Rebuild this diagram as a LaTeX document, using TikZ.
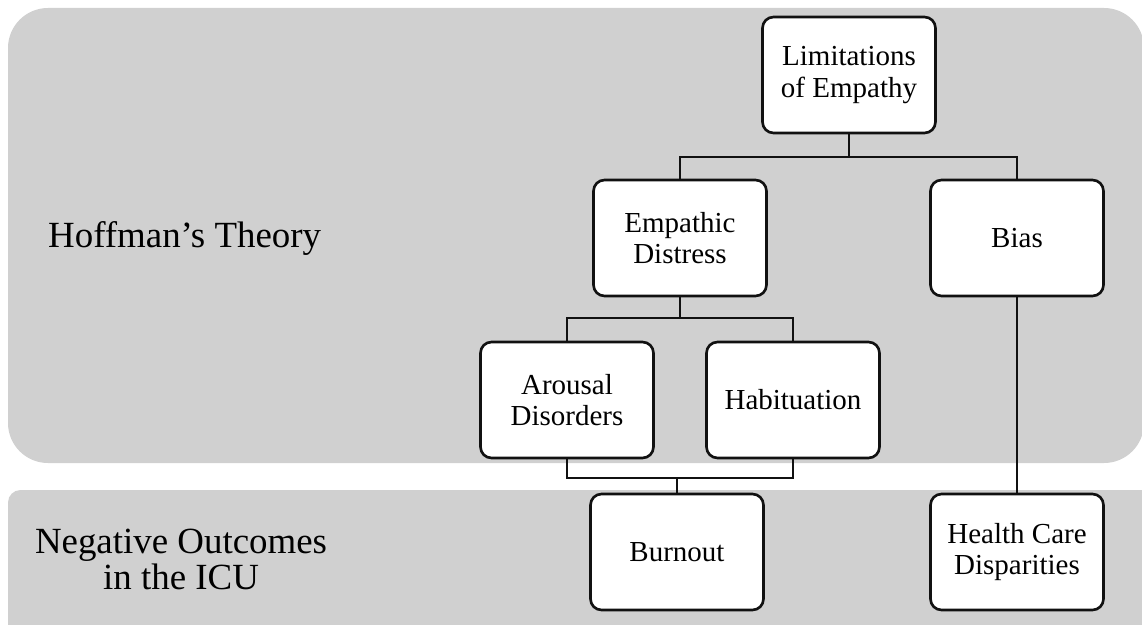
\documentclass[tikz,border=0pt]{standalone}
\usepackage{fontspec}
\setmainfont{Liberation Serif}
\usepackage{tikz}
\definecolor{panelgray}{HTML}{D0D0D0}
\definecolor{boxline}{HTML}{111111}

\begin{document}
\begin{tikzpicture}[
  x=0.02cm, y=-0.02cm,
  panel/.style={fill=panelgray},
  concept/.style={rectangle, draw=boxline, fill=white, line width=1.5pt, rounded corners=0.22cm, minimum width=3.46cm, minimum height=2.32cm, align=center, font=\fontsize{16.5}{17.8}\selectfont},
  heading/.style={align=center, font=\fontsize{21}{20.5}\selectfont},
  link/.style={draw=boxline, line width=1.5pt}
]
  \useasboundingbox (0,0) rectangle (1142,625);
  \fill[panel, rounded corners=0.8cm] (8,8) rectangle (1144,463);
  \fill[panel, rounded corners=0.25cm] (8,490) rectangle (1170,660);

  \node[heading, anchor=west] (theory) at (42,238) {Hoffman’s Theory};
  \node[heading] (outcomes) at (181,559) {Negative Outcomes\\in the ICU};

  \node[concept] (limits) at (849,75) {Limitations\\of Empathy};
  \node[concept] (distress) at (680,238) {Empathic\\Distress};
  \node[concept] (bias) at (1017,238) {Bias};
  \node[concept] (arousal) at (567,400) {Arousal\\Disorders};
  \node[concept] (habit) at (793,400) {Habituation};
  \node[concept] (burnout) at (677,552) {Burnout};
  \node[concept] (dispar) at (1017,552) {Health Care\\Disparities};

  \coordinate (topfork) at (849,157);
  \coordinate (midfork) at (680,318);
  \coordinate (lowfork) at (677,478);

  \draw[link] (limits.south) -- (topfork);
  \draw[link] (distress.north) |- (topfork) -| (bias.north);
  \draw[link] (distress.south) -- (midfork);
  \draw[link] (arousal.north) |- (midfork) -| (habit.north);
  \draw[link] (arousal.south) |- (lowfork) -| (habit.south);
  \draw[link] (burnout.north) -- (lowfork);
  \draw[link] (bias.south) -- (dispar.north);
\end{tikzpicture}
\end{document}
